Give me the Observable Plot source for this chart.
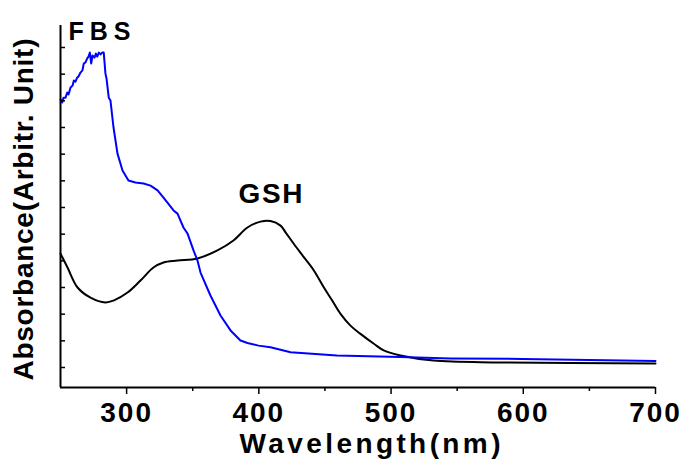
<!DOCTYPE html>
<html><head><meta charset="utf-8">
<script src="https://cdn.jsdelivr.net/npm/d3@7"></script>
<script src="https://cdn.jsdelivr.net/npm/@observablehq/plot@0.6"></script>
<style>html,body{margin:0;padding:0;background:#fff} svg{display:block}</style>
</head><body><div id="chart"></div>
<script>
// GSH absorbance spectrum (black)
const gshWavelength = [250, 255.3, 262.9, 272.7, 284.0, 290.1, 300.7, 310.5, 320.3, 327.9, 338.5, 353.6, 368.7, 380.8, 391.4, 401.3, 408.8, 416.4, 420.2, 426.4, 434.0, 441.6, 449.1, 455.5, 461.8, 469.3, 476.9, 487.0, 494.5, 507.1, 532.1, 582.8, 700];
const gshAbsorbance = [4.27, 3.75, 3.00, 2.62, 2.44, 2.51, 2.81, 3.26, 3.75, 3.94, 4.01, 4.09, 4.39, 4.76, 5.25, 5.47, 5.49, 5.32, 5.07, 4.64, 4.14, 3.64, 3.01, 2.51, 2.01, 1.57, 1.26, 0.89, 0.64, 0.45, 0.26, 0.19, 0.15];

// FBS absorbance spectrum (blue)
const fbsWavelength = [250, 251.3, 252.3, 253.8, 255.1, 256.1, 257.6, 259.1, 260.1, 261.3, 262.6, 263.6, 265.1, 266.6, 267.6, 268.9, 270.2, 271.2, 272.2, 273.2, 274.2, 275.7, 276.8, 277.8, 279.0, 280.3, 281.5, 282.7, 284.0, 284.8, 286.5, 287.8, 290.1, 293.1, 296.9, 301.4, 306.7, 312.8, 318.1, 323.4, 327.9, 335.5, 338.5, 343.0, 346.1, 350.6, 353.6, 355.9, 363.4, 371.0, 378.6, 386.1, 391.4, 399.8, 408.8, 424.0, 459.0, 507.1, 544.9, 599.4, 700];
const fbsAbsorbance = [10.05, 9.94, 10.12, 10.12, 10.31, 10.24, 10.50, 10.57, 10.76, 10.72, 10.87, 10.91, 11.06, 11.14, 11.40, 11.44, 11.59, 11.66, 11.81, 11.40, 11.70, 11.62, 11.77, 11.66, 11.81, 11.74, 11.81, 11.81, 11.02, 10.84, 10.12, 10.01, 9.00, 8.02, 7.39, 7.01, 6.94, 6.90, 6.82, 6.64, 6.37, 5.89, 5.77, 5.25, 5.02, 4.39, 4.01, 3.56, 2.70, 1.95, 1.39, 1.01, 0.92, 0.82, 0.76, 0.57, 0.45, 0.39, 0.34, 0.32, 0.24];

// Axes
const xMajorTicks = [300, 400, 500, 600, 700];
const xMinorTicks = [350, 450, 550, 650];
const yTicks = [0, 1, 2, 3, 4, 5, 6, 7, 8, 9, 10, 11, 12];
const xDomain = [250, 700];
const yDomain = [-0.75, 12.825];
const xLabel = "Wavelength(nm)";
const yLabel = "Absorbance(Arbitr. Unit)";

// Series annotations (in data coordinates)
const seriesNames = ["FBS", "GSH"];
const seriesLabelWavelength = [279.5, 408.8];
const seriesLabelAbsorbance = [12.6, 6.52];

const fbs = fbsWavelength.map((w, i) => ({w, a: fbsAbsorbance[i]}));
const gsh = gshWavelength.map((w, i) => ({w, a: gshAbsorbance[i]}));
const annotations = seriesNames.map((t, i) => ({t, w: seriesLabelWavelength[i], a: seriesLabelAbsorbance[i]}));

const font = '"Liberation Sans", Arial, sans-serif';

const plot = Plot.plot({
  width: 684,
  height: 463,
  marginLeft: 60,
  marginRight: 29,
  marginTop: 25,
  marginBottom: 76,
  style: {fontFamily: font, fontWeight: "bold", fontSize: "28px", color: "#000", background: "#fff", overflow: "visible"},
  x: {domain: xDomain},
  y: {domain: yDomain},
  marks: [
    Plot.line(gsh, {x: "w", y: "a", stroke: "#000", strokeWidth: 2, curve: "catmull-rom"}),
    Plot.line(fbs, {x: "w", y: "a", stroke: "#0000ff", strokeWidth: 2}),
    Plot.ruleX([xDomain[0]], {stroke: "#000", strokeWidth: 2}),
    Plot.ruleY([yDomain[0]], {stroke: "#000", strokeWidth: 2}),
    Plot.axisX(xMajorTicks, {tickSize: 7, tickPadding: 8, label: null, fontSize: 28, fontWeight: "bold", strokeWidth: 1.5}),
    Plot.axisX(xMinorTicks, {tickSize: 4, tickFormat: () => "", label: null, strokeWidth: 1.5}),
    Plot.axisY(yTicks, {tickSize: -5, tickFormat: () => "", label: null, strokeWidth: 1.5}),
    Plot.text([xLabel], {text: d => d, frameAnchor: "bottom", textAnchor: "middle", dx: 12, dy: 65, fontSize: 28, fontWeight: "bold"}),
    Plot.text([yLabel], {text: d => d, frameAnchor: "left", textAnchor: "middle", rotate: -90, dx: -36, dy: 3, fontSize: 28, fontWeight: "bold"}),
    Plot.text(annotations, {x: "w", y: "a", text: "t", fontSize: d => d.t === "FBS" ? 25 : 28, fontWeight: "bold"})
  ]
});

document.getElementById("chart").appendChild(plot);

// letter spacing / text widths to match the reference typography
const svg = d3.select(plot);
svg.selectAll('g[aria-label="x-axis tick label"] text').style("letter-spacing", "2px");
const widths = {"Wavelength(nm)": 261, "Absorbance(Arbitr. Unit)": 342, "FBS": 62, "GSH": 64};
svg.selectAll("text").each(function () {
  const t = this.textContent;
  if (widths[t]) {
    d3.select(this).attr("textLength", widths[t]).attr("lengthAdjust", "spacing");
  }
});
</script>
</body></html>
